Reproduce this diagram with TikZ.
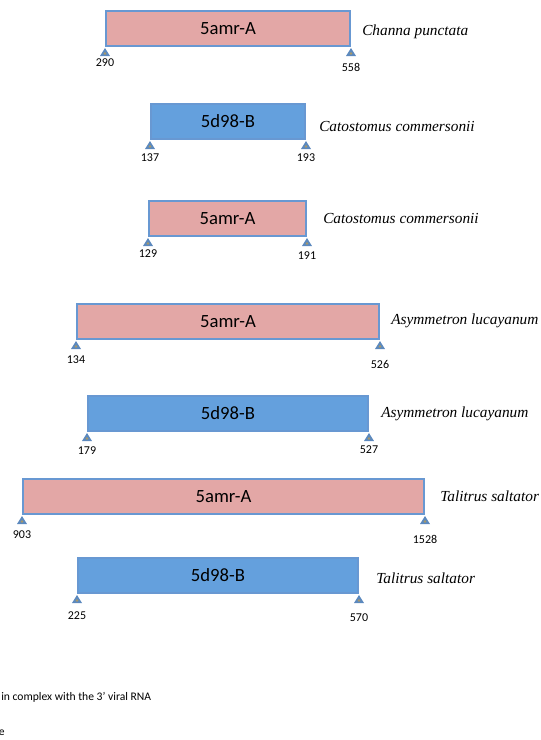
\documentclass[tikz,border=0pt]{standalone}
\usepackage{fontspec}
\setmainfont{Carlito}
\newfontfamily\speciesfont{Liberation Serif}
\usepackage{xcolor}
\definecolor{barline}{RGB}{104,152,210}
\definecolor{pinkfill}{RGB}{227,167,166}
\definecolor{bluefill}{RGB}{100,160,221}
\definecolor{pinblue}{RGB}{92,137,190}
\definecolor{pindot}{RGB}{168,152,104}
\usepackage{tikz}
\usetikzlibrary{positioning}

\begin{document}
\begin{tikzpicture}[x=0.75pt, y=-0.75pt,
  bar/.style={draw=barline, line width=1.5pt, minimum height=26.25pt,
              inner sep=0pt, anchor=north west, font=\fontsize{14}{16}\selectfont},
  pinkbar/.style={bar, fill=pinkfill},
  bluebar/.style={bar, fill=bluefill},
  posnum/.style={inner sep=0pt, font=\fontsize{9}{10}\selectfont},
  species/.style={inner sep=0pt, anchor=west, font=\fontsize{11.5}{13}\selectfont\speciesfont\itshape},
  note/.style={inner sep=0pt, font=\fontsize{8.7}{10}\selectfont}]
\useasboundingbox (0,0) rectangle (541,740);
\foreach \n/\l/\r/\t/\col/\prot/\a/\da/\b/\db/\sx/\sy/\sp in {
  1/105/349/10/pinkbar/5amr-A/290/16/558/20/362/32/{Channa punctata},
  2/150/304/103/bluebar/5d98-B/137/18/193/18/319/127/{Catostomus commersonii},
  3/148/305/200/pinkbar/5amr-A/129/17/191/19/323/219/{Catostomus commersonii},
  4/76/378/303/pinkbar/5amr-A/134/20/526/24/391/321/{Asymmetron lucayanum},
  5/87/367/395/bluebar/5d98-B/179/19/527/18/381/414/{Asymmetron lucayanum},
  6/22/423/478/pinkbar/5amr-A/903/20/1528/24/440/496/{Talitrus saltator},
  7/77/357/557/bluebar/5d98-B/225/22/570/24/376/578/{Talitrus saltator}
}{
  \node[\col, minimum width={(\r-\l)*0.75pt}] (bar\n) at (\l,\t) {\prot};
  % end markers
  \foreach \c in {south west, south east}{
    \path (bar\n.\c) ++(0,1) coordinate (tip);
    \fill[pinblue] (tip) -- ++(5,8) -- ++(-10,0) -- cycle;
    \fill[pindot] (tip) ++(0,5.5) circle (1.3);
  }
  \node[posnum, below={(\da-4.3)*0.75pt} of bar\n.south west] (start\n) {\a};
  \node[posnum, below={(\db-4.3)*0.75pt} of bar\n.south east] (end\n) {\b};
  \node[species] (sp\n) at (\sx,\sy) {\sp};
}
\node[note, anchor=west] (caption) at (1,697) {in complex with the 3' viral RNA};
\node[note, anchor=east] (cut) at (5,733) {e};
\end{tikzpicture}
\end{document}
